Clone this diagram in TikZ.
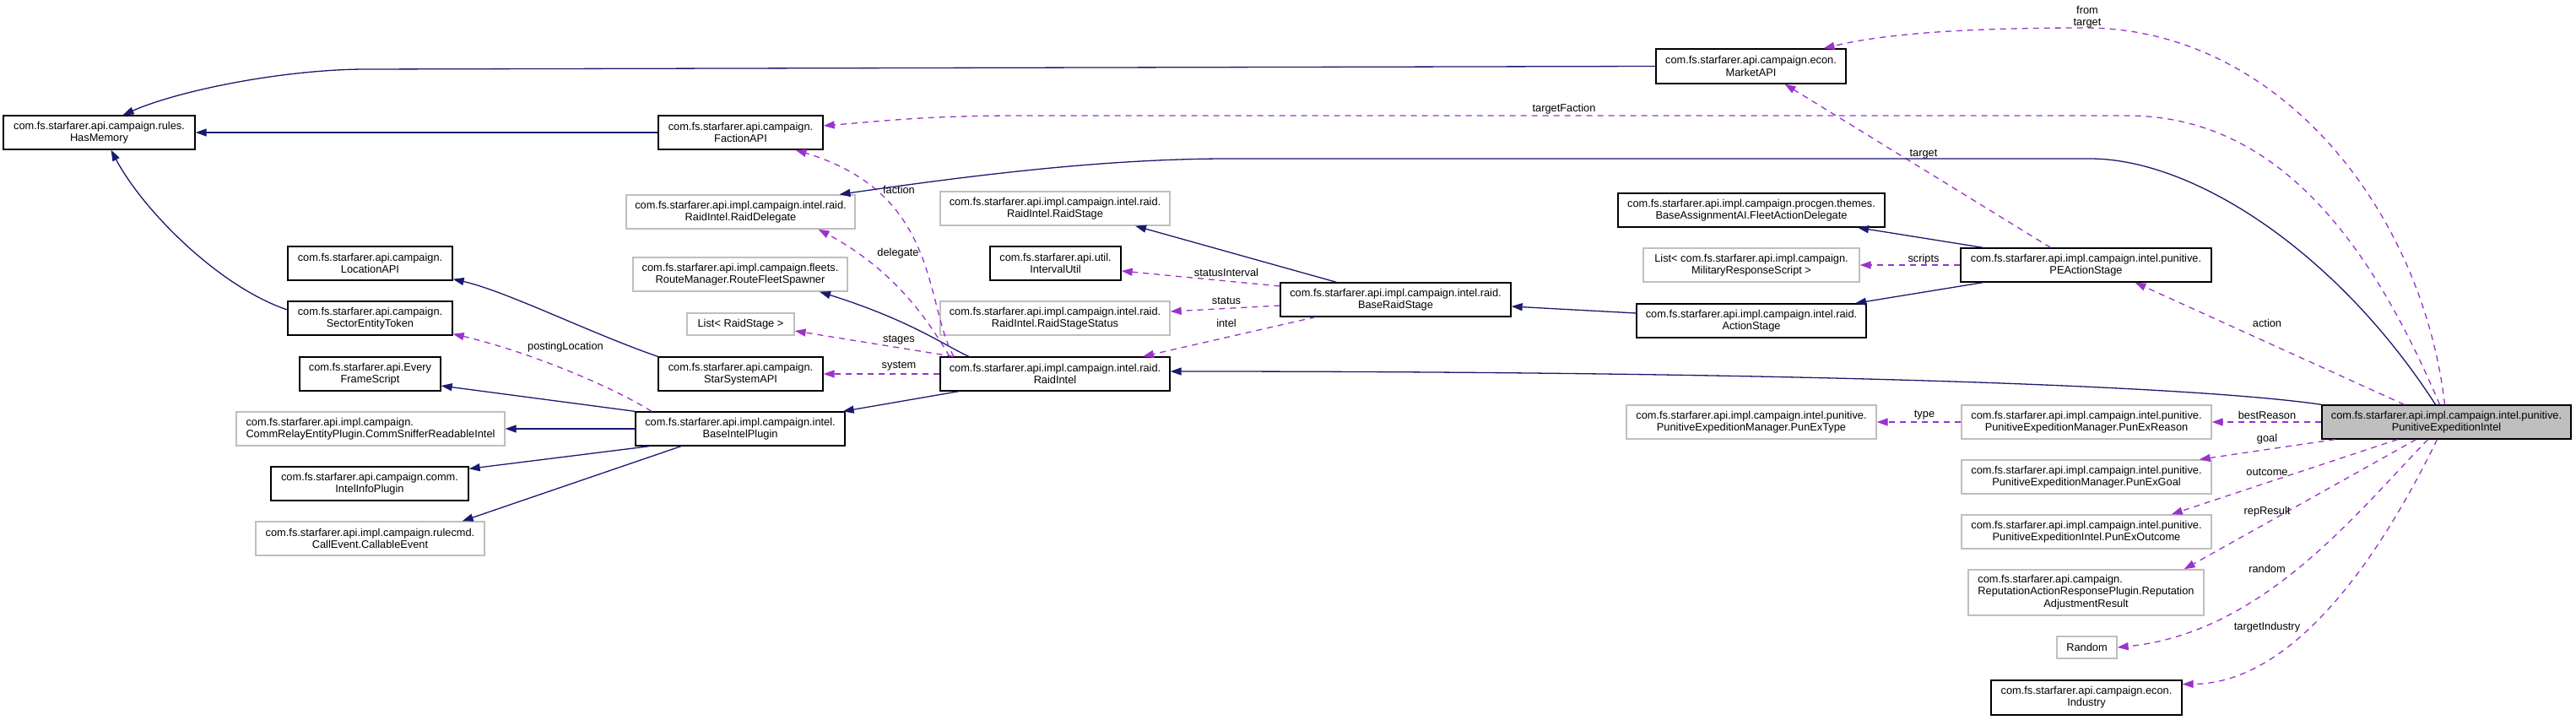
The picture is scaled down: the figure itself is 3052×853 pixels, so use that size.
\documentclass[tikz,border=0pt]{standalone}
\usepackage{fontspec}
\setmainfont{Liberation Sans}
\usetikzlibrary{arrows.meta}
\definecolor{inhblue}{HTML}{191970}
\definecolor{usepurple}{HTML}{9A32CD}
\definecolor{extgray}{HTML}{BFBFBF}
\tikzset{
  cls/.style={draw=black, line width=1.3pt, fill=white, align=center, minimum height=40, inner sep=2pt},
  ext/.style={cls, draw=extgray},
  lbl/.style={inner sep=0pt, align=center},
  inh/.style={draw=inhblue, line width=1.3pt, -{Triangle[length=13pt,width=9pt]}},
  use/.style={draw=usepurple, line width=1.3pt, dash pattern=on 7pt off 6pt, -{Triangle[length=13pt,width=9pt]}},
}
\begin{document}
\begin{tikzpicture}[x=1pt,y=-1pt,every node/.style={font=\fontsize{12.8}{14.3}\selectfont}]
\useasboundingbox (0,0) rectangle (3052,853);

\node[cls, minimum width=227] (hasmem) at (117.5,157) {com.fs.starfarer.api.campaign.rules.\\HasMemory};
\node[cls, minimum width=195] (faction) at (877.5,157) {com.fs.starfarer.api.campaign.\\FactionAPI};
\node[cls, minimum width=225, minimum height=41] (market) at (2074.5,78.5) {com.fs.starfarer.api.campaign.econ.\\MarketAPI};
\node[ext, minimum width=271] (raiddel) at (877.5,251) {com.fs.starfarer.api.impl.campaign.intel.raid.\\RaidIntel.RaidDelegate};
\node[cls, minimum width=195] (location) at (438.5,312) {com.fs.starfarer.api.campaign.\\LocationAPI};
\node[cls, minimum width=195] (sector) at (438.5,377) {com.fs.starfarer.api.campaign.\\SectorEntityToken};
\node[cls, minimum width=167] (everyframe) at (438.5,443) {com.fs.starfarer.api.Every\\FrameScript};
\node[ext, minimum width=318, align=left] (commsniffer) at (439,508) {com.fs.starfarer.api.impl.campaign.\\CommRelayEntityPlugin.CommSnifferReadableIntel};
\node[cls, minimum width=234] (intelinfo) at (438,573) {com.fs.starfarer.api.campaign.comm.\\IntelInfoPlugin};
\node[ext, minimum width=271] (callable) at (438.5,638) {com.fs.starfarer.api.impl.campaign.rulecmd.\\CallEvent.CallableEvent};
\node[ext, minimum width=254] (routefleet) at (877,325) {com.fs.starfarer.api.impl.campaign.fleets.\\RouteManager.RouteFleetSpawner};
\node[ext, minimum width=127, minimum height=26] (liststage) at (877.5,384) {List< RaidStage >};
\node[cls, minimum width=195] (starsys) at (877.5,443) {com.fs.starfarer.api.campaign.\\StarSystemAPI};
\node[cls, minimum width=248] (baseintel) at (877,508) {com.fs.starfarer.api.impl.campaign.intel.\\BaseIntelPlugin};
\node[ext, minimum width=272] (raidstage) at (1250,247) {com.fs.starfarer.api.impl.campaign.intel.raid.\\RaidIntel.RaidStage};
\node[cls, minimum width=155] (interval) at (1250.5,312) {com.fs.starfarer.api.util.\\IntervalUtil};
\node[ext, minimum width=272] (stagestatus) at (1250,377) {com.fs.starfarer.api.impl.campaign.intel.raid.\\RaidIntel.RaidStageStatus};
\node[cls, minimum width=272] (raidintel) at (1250,443) {com.fs.starfarer.api.impl.campaign.intel.raid.\\RaidIntel};
\node[cls, minimum width=273] (baseraid) at (1653.5,355) {com.fs.starfarer.api.impl.campaign.intel.raid.\\BaseRaidStage};
\node[cls, minimum width=316] (fleetdel) at (2075,249) {com.fs.starfarer.api.impl.campaign.procgen.themes.\\BaseAssignmentAI.FleetActionDelegate};
\node[ext, minimum width=256] (milscript) at (2075,314) {List< com.fs.starfarer.api.impl.campaign.\\MilitaryResponseScript >};
\node[cls, minimum width=272] (actionstage) at (2075,380) {com.fs.starfarer.api.impl.campaign.intel.raid.\\ActionStage};
\node[cls, minimum width=297] (peaction) at (2471.5,314) {com.fs.starfarer.api.impl.campaign.intel.punitive.\\PEActionStage};
\node[cls, fill=extgray, minimum width=295] (pei) at (2898.5,500) {com.fs.starfarer.api.impl.campaign.intel.punitive.\\PunitiveExpeditionIntel};
\node[ext, minimum width=296] (punextype) at (2075,500) {com.fs.starfarer.api.impl.campaign.intel.punitive.\\PunitiveExpeditionManager.PunExType};
\node[ext, minimum width=296] (punexreason) at (2472,500) {com.fs.starfarer.api.impl.campaign.intel.punitive.\\PunitiveExpeditionManager.PunExReason};
\node[ext, minimum width=296] (punexgoal) at (2472,565) {com.fs.starfarer.api.impl.campaign.intel.punitive.\\PunitiveExpeditionManager.PunExGoal};
\node[ext, minimum width=296] (punexoutcome) at (2472,630) {com.fs.starfarer.api.impl.campaign.intel.punitive.\\PunitiveExpeditionIntel.PunExOutcome};
\node[ext, minimum width=279, minimum height=54] (represult) at (2471.5,702) {\begin{tabular}{@{}l@{}}com.fs.starfarer.api.campaign.\\ReputationActionResponsePlugin.Reputation\\\multicolumn{1}{@{}c@{}}{AdjustmentResult}\end{tabular}};
\node[ext, minimum width=71, minimum height=26] (random) at (2472.5,767) {Random};
\node[cls, minimum width=226, minimum height=41] (industry) at (2472,826.5) {com.fs.starfarer.api.campaign.econ.\\Industry};

\path[inh] (market.west) -- (430,82) .. controls (330,83) and (210,108) .. ([xshift=28]hasmem.north);
\path[inh] (faction.west) -- (hasmem.east);
\path[inh] ([yshift=10]sector.west) .. controls (260,340) and (170,250) .. ([xshift=14]hasmem.south);
\path[inh] (starsys.north west) .. controls (700,395) and (600,345) .. ([yshift=2]location.south east);
\path[use] ([xshift=-105]baseintel.north) .. controls (720,455) and (620,415) .. ([yshift=2]sector.south east);
\path[inh] (baseintel.north west) -- ([yshift=-14]everyframe.east);
\path[inh] (baseintel.west) -- (commsniffer.east);
\path[inh] ([xshift=17]baseintel.south west) -- ([yshift=-3]intelinfo.north east);
\path[inh] ([xshift=-70]baseintel.south) -- ([xshift=-27]callable.north east);
\path[inh] ([xshift=-114]raidintel.south) -- ([xshift=-3]baseintel.north east);
\path[use] (raidintel.west) -- (starsys.east);
\path[use] ([xshift=16]raidintel.north west) -- ([yshift=-8]liststage.east);
\path[inh] ([xshift=-102]raidintel.north) .. controls (1120,410) and (1080,380) .. ([xshift=94]routefleet.south);
\path[use] ([xshift=-125]raidintel.north) .. controls (1100,380) and (1060,320) .. ([xshift=92]raiddel.south);
\path[use] ([xshift=-120]raidintel.north) .. controls (1095,360) and (1115,230) .. ([xshift=65]faction.south);
\path[inh] ([xshift=-70]baseraid.north) -- ([xshift=95]raidstage.south);
\path[use] ([yshift=16]baseraid.west) -- ([yshift=-9]interval.east);
\path[use] ([yshift=-7]baseraid.west) -- ([yshift=8]stagestatus.east);
\path[use] ([xshift=-95]baseraid.south) -- ([xshift=104]raidintel.north);
\path[inh] ([yshift=9]actionstage.west) -- ([yshift=-8]baseraid.east);
\path[inh] ([xshift=-122]peaction.north) -- ([xshift=126]fleetdel.south);
\path[inh] ([xshift=-122]peaction.south) -- ([xshift=123]actionstage.north);
\path[use] (peaction.west) -- (milscript.east);
\path[use] ([xshift=-42]peaction.north) -- ([xshift=40]market.south);
\path[use] ([xshift=-50]pei.north) -- ([xshift=58]peaction.south);
\path[inh] (pei.north west) .. controls (2620,460) and (2200,440) .. ([yshift=3]raidintel.east);
\path[inh] ([xshift=-13]pei.north) .. controls (2770,300) and (2600,188) .. (2476,188) -- (1447,188) .. controls (1300,189) and (1150,208) .. ([xshift=117]raiddel.north);
\path[use] ([xshift=-8]pei.north) .. controls (2810,290) and (2700,137) .. (2520,137) -- (1210,137) .. controls (1100,137) and (1050,143) .. ([yshift=8]faction.east);
\path[use] ([xshift=-2]pei.north) .. controls (2870,250) and (2700,33) .. (2470,33) .. controls (2350,33) and (2240,38) .. ([xshift=86]market.north);
\path[use] (pei.west) -- (punexreason.east);
\path[use] (punexreason.west) -- (punextype.east);
\path[use] ([xshift=16]pei.south west) -- ([xshift=-15]punexgoal.north east);
\path[use] ([xshift=-58]pei.south) -- ([xshift=-48]punexoutcome.north east);
\path[use] ([xshift=-36]pei.south) -- ([xshift=-24]represult.north east);
\path[use] ([xshift=-22]pei.south) .. controls (2790,610) and (2680,750) .. (random.east);
\path[use] ([xshift=-11]pei.south) .. controls (2800,700) and (2700,810) .. ([yshift=16]industry.east);

\node[lbl] (l-fromtarget) at (2473,20) {from\\target};
\node[lbl] (l-targetfaction) at (1853,129) {targetFaction};
\node[lbl] (l-target) at (2279,183) {target};
\node[lbl] (l-faction) at (1065,225) {faction};
\node[lbl] (l-delegate) at (1064,300) {delegate};
\node[lbl] (l-statusint) at (1453,323) {statusInterval};
\node[lbl] (l-status) at (1453,356) {status};
\node[lbl] (l-intel) at (1453,383) {intel};
\node[lbl] (l-stages) at (1065,403) {stages};
\node[lbl] (l-system) at (1065,434) {system};
\node[lbl] (l-posting) at (670,411) {postingLocation};
\node[lbl] (l-scripts) at (2279,307) {scripts};
\node[lbl] (l-action) at (2686,383) {action};
\node[lbl] (l-type) at (2280,492) {type};
\node[lbl] (l-bestreason) at (2686,492) {bestReason};
\node[lbl] (l-goal) at (2686,520) {goal};
\node[lbl] (l-outcome) at (2686,559) {outcome};
\node[lbl] (l-represult) at (2686,606) {repResult};
\node[lbl] (l-random) at (2686,674) {random};
\node[lbl] (l-targetind) at (2686,743) {targetIndustry};
\end{tikzpicture}
\end{document}
